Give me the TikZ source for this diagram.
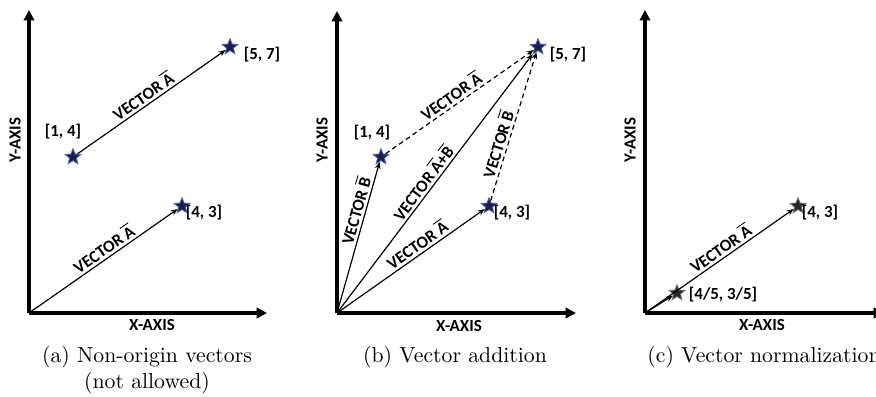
\documentclass[tikz,border=0pt]{standalone}
\usepackage{fontspec}
\setsansfont{Carlito}
\usetikzlibrary{arrows.meta,shapes.geometric}
\definecolor{navystar}{RGB}{28,30,72}
\definecolor{bluerim}{RGB}{80,100,175}
\newcommand{\vbar}[1]{$\overline{\mbox{#1}}$}
\tikzset{
  axis/.style={line width=1.4pt,-{Triangle[length=4.8pt,width=4.8pt]}},
  vec/.style={line width=0.55pt,-{Stealth[length=3.2pt,width=2.6pt]}},
  dvec/.style={vec,dash pattern=on 2.2pt off 1.6pt},
  vstar/.style={star,star points=5,star point ratio=2.3,minimum size=7.6pt,inner sep=0pt,
    fill=navystar,draw=bluerim,line width=0.4pt},
  gstar/.style={vstar,fill=black!85,draw=black!55},
  lbl/.style={font=\sffamily\bfseries\fontsize{7.8}{9}\selectfont,inner sep=1pt},
  vlabel/.style={lbl,sloped,above,inner sep=1.1pt}
}
\begin{document}
\begin{tikzpicture}[x=0.46pt,y=0.46pt]
\useasboundingbox (0,0) rectangle (876,397);
% (a) non-origin vectors
\coordinate (Oa) at (29,84);
\coordinate (Ya) at (29,387);
\coordinate (Xa) at (267,84);
\draw[axis] (Oa) -- (Ya);
\draw[axis] (Oa) -- (Xa);
\node[lbl] (xa) at (152,72) {X-AXIS};
\node[lbl,rotate=90] (ya) at (15,257) {Y-AXIS};
\node[vstar] (a14) at (73,240) {};
\node[vstar] (a57) at (230,350) {};
\node[vstar] (a43) at (182,191) {};
\node[lbl] (la57) at (262,342) {[5, 7]};
\node[lbl] (la14) at (63,265) {[1, 4]};
\node[lbl] (la43) at (204,184) {[4, 3]};
\draw[vec] (a14) -- node[vlabel,pos=0.48] {VECTOR \vbar{A}} (a57);
\draw[vec] (Oa) -- node[vlabel,pos=0.54] {VECTOR \vbar{A}} (a43);
\node[align=center] (capa) at (147,27) {(a) Non-origin vectors\\(not allowed)};
% (b) addition
\coordinate (Ob) at (337,84);
\coordinate (Yb) at (337,386);
\coordinate (Xb) at (576,84);
\draw[axis] (Ob) -- (Yb);
\draw[axis] (Ob) -- (Xb);
\node[lbl] (xb) at (459,71) {X-AXIS};
\node[lbl,rotate=90] (yb) at (322,257) {Y-AXIS};
\node[vstar] (b14) at (381,240) {};
\node[vstar] (b57) at (538,350) {};
\node[vstar] (b43) at (489,191) {};
\node[lbl] (lb57) at (568,342) {[5, 7]};
\node[lbl] (lb14) at (372,264) {[1, 4]};
\node[lbl] (lb43) at (512,184) {[4, 3]};
\draw[vec] (Ob) -- node[vlabel,pos=0.66] {VECTOR \vbar{B}} (b14);
\draw[vec] (Ob) -- node[vlabel,pos=0.58] {VECTOR \vbar{A}} (b43);
\draw[vec] (Ob) -- node[vlabel,pos=0.48] {VECTOR \vbar{A}+\vbar{B}} (b57);
\draw[dvec] (b14) -- node[vlabel,pos=0.48] {VECTOR \vbar{A}} (b57);
\draw[dvec] (b43) -- node[vlabel,pos=0.36] {VECTOR \vbar{B}} (b57);
\node (capb) at (455,40) {(b) Vector addition};
% (c) normalization
\coordinate (Oc) at (645,84);
\coordinate (Yc) at (645,387);
\coordinate (Xc) at (884,84);
\draw[axis] (Oc) -- (Yc);
\draw[axis] (Oc) -- (Xc);
\node[lbl] (xc) at (762,72) {X-AXIS};
\node[lbl,rotate=90] (yc) at (630,257) {Y-AXIS};
\node[gstar] (c43) at (798,191) {};
\node[gstar] (c45) at (677,104) {};
\node[lbl] (lc43) at (820,184) {[4, 3]};
\node[lbl] (lc45) at (723,102) {[4/5, 3/5]};
\draw[vec] (Oc) -- (c45);
\draw[vec] (Oc) -- node[vlabel,pos=0.545] {VECTOR \vbar{A}} (c43);
\node[anchor=west,inner sep=0pt] (capc) at (647,40) {(c) Vector normalization};
\end{tikzpicture}
\end{document}
